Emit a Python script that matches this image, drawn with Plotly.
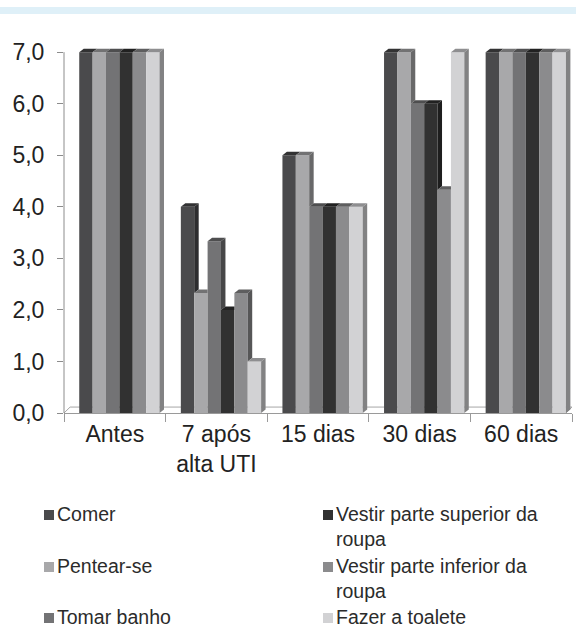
import plotly.graph_objects as go

# Categories (time points) and activities of daily living
categories = ["Antes", "7 após<br>alta UTI", "15 dias", "30 dias", "60 dias"]
series_names = [
    "Comer",
    "Pentear-se",
    "Tomar banho",
    "Vestir parte superior da roupa",
    "Vestir parte inferior da roupa",
    "Fazer a toalete",
]
legend_labels = [
    "Comer",
    "Pentear-se",
    "Tomar banho",
    "Vestir parte superior da<br>roupa",
    "Vestir parte inferior da<br>roupa",
    "Fazer a toalete",
]

# Scores per activity, one value per time point
comer = [7, 4, 5, 7, 7]
pentear = [7, 2.33, 5, 7, 7]
banho = [7, 3.33, 4, 6, 7]
vestir_sup = [7, 2, 4, 6, 7]
vestir_inf = [7, 2.33, 4, 4.33, 7]
toalete = [7, 1, 4, 7, 7]
series_values = [comer, pentear, banho, vestir_sup, vestir_inf, toalete]

y_ticks = [0, 1, 2, 3, 4, 5, 6, 7]
y_ticktext = [f"{v:.1f}".replace(".", ",") for v in y_ticks]

colors = ["#4a4a4c", "#a8a8aa", "#737375", "#313131", "#8b8b8d", "#d2d2d4"]

# ---- geometry ----
W, H = 576, 629
ML, MR, MT, MB = 64, 4, 47, 216
PW, PH = W - ML - MR, H - MT - MB
Y_MAX = 7.1

BAR_W = 0.1317          # width of one bar in category units
GROUP_START = -0.35     # offset of first bar from category centre
DX = 0.044              # 3-D depth, horizontal (category units)
DY = 0.068              # 3-D depth, vertical (value units)

FONT = "Liberation Sans, Arial, sans-serif"


def shade(hex_color, k):
    h = hex_color.lstrip("#")
    r, g, b = (int(h[i:i + 2], 16) for i in (0, 2, 4))
    return "#{:02x}{:02x}{:02x}".format(int(r * k), int(g * k), int(b * k))


def px_x(p):
    return (p - ML) / PW


def px_y(p):
    return (H - MB - p) / PH


fig = go.Figure()

for j, (name, vals) in enumerate(zip(series_names, series_values)):
    fig.add_trace(go.Bar(
        x=categories, y=vals, name=name,
        width=BAR_W, offset=GROUP_START + j * BAR_W,
        marker=dict(color=colors[j], line=dict(width=0)),
        showlegend=False,
    ))

shapes = []

# floor of the 3-D box
shapes.append(dict(
    type="path", xref="x", yref="y", layer="below",
    path=f"M -0.5,0 L {-0.5 + 0.06},0.115 L 4.5,0.115",
    line=dict(color="#a6a6a6", width=1),
))
shapes.append(dict(
    type="line", xref="x", yref="y", layer="below",
    x0=4.5 - 0.06, y0=0, x1=4.5, y1=0.115,
    line=dict(color="#a6a6a6", width=1),
))

# top and side faces of every bar
for i in range(len(categories)):
    for j, vals in enumerate(series_values):
        v = vals[i]
        nxt = series_values[j + 1][i] if j + 1 < len(series_values) else 0
        x0 = i + GROUP_START + j * BAR_W
        x1 = x0 + BAR_W
        top_col = shade(colors[j], 0.68)
        side_col = shade(colors[j], 0.62)
        if j + 1 < len(series_values) and nxt > v:
            top = f"M {x0},{v} L {x1},{v} L {x1},{v + DY} L {x0 + DX},{v + DY} Z"
        else:
            top = f"M {x0},{v} L {x1},{v} L {x1 + DX},{v + DY} L {x0 + DX},{v + DY} Z"
        shapes.append(dict(type="path", xref="x", yref="y", path=top,
                           fillcolor=top_col, line=dict(width=0), layer="above"))
        if v > nxt:
            side = (f"M {x1},{nxt} L {x1},{v} L {x1 + DX},{v + DY} "
                    f"L {x1 + DX},{nxt + DY} Z")
            shapes.append(dict(type="path", xref="x", yref="y", path=side,
                               fillcolor=side_col, line=dict(width=0), layer="above"))

# value axis line
shapes.append(dict(
    type="line", xref="paper", yref="y", x0=0, x1=0, y0=0, y1=7,
    line=dict(color="#8c8c8c", width=1),
))

# light band across the top of the page
shapes.append(dict(
    type="rect", xref="paper", yref="paper", layer="below",
    x0=px_x(0), x1=px_x(W), y0=px_y(14), y1=px_y(7),
    fillcolor="#dff0f8", line=dict(width=0),
))

# legend: two columns of swatches with labels
annotations = []
legend_pos = [
    (44, 515), (44, 567), (44, 618),
    (323, 515), (323, 567), (323, 618),
]
SW = 10
for (lx, ly), label, col in zip(legend_pos, legend_labels, colors):
    shapes.append(dict(
        type="rect", xref="paper", yref="paper",
        x0=px_x(lx), x1=px_x(lx + SW), y0=px_y(ly + SW / 2), y1=px_y(ly - SW / 2),
        fillcolor=col, line=dict(width=0),
    ))
    annotations.append(dict(
        xref="paper", yref="paper", x=px_x(lx + SW + 1), y=px_y(ly - 14),
        xanchor="left", yanchor="top", align="left", showarrow=False,
        text=label, font=dict(family=FONT, size=19.5, color="#2b2b2b"),
    ))

fig.update_layout(
    width=W, height=H,
    margin=dict(l=ML, r=MR, t=MT, b=MB),
    paper_bgcolor="white", plot_bgcolor="white",
    barmode="overlay",
    showlegend=False,
    font=dict(family=FONT, size=23, color="#222222"),
    shapes=shapes,
    annotations=annotations,
    xaxis=dict(
        type="category", categoryorder="array", categoryarray=categories,
        range=[-0.5, 4.5], tickson="boundaries",
        ticks="outside", ticklen=8, tickcolor="#9a9a9a",
        showline=True, linecolor="#9a9a9a", linewidth=1,
        showgrid=False, zeroline=False,
        tickfont=dict(family=FONT, size=23, color="#222222"),
    ),
    yaxis=dict(
        range=[0, Y_MAX], tickvals=y_ticks, ticktext=y_ticktext,
        ticks="outside", ticklen=6, tickcolor="#8c8c8c",
        showline=False, showgrid=False, zeroline=False,
        ticklabelstandoff=8,
        tickfont=dict(family=FONT, size=23, color="#222222"),
    ),
)

fig.write_html("out.html")
